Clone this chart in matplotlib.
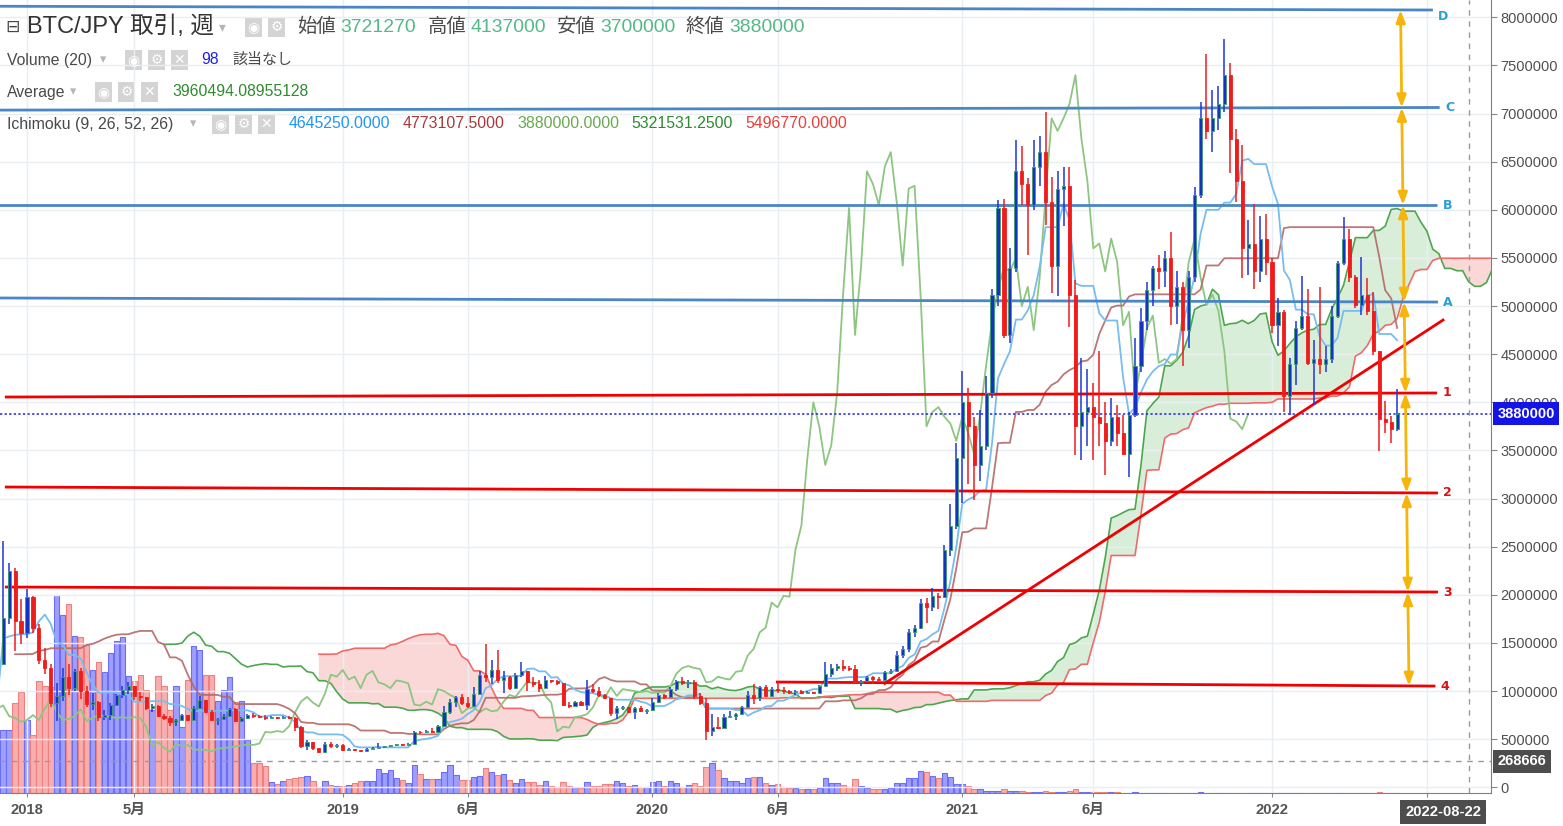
import numpy as np
import pandas as pd
import matplotlib
matplotlib.use('Agg')
import matplotlib.pyplot as plt
from matplotlib import font_manager
from matplotlib.patches import Rectangle
from matplotlib.transforms import blended_transform_factory
from matplotlib.ticker import FuncFormatter

# weekly BTC/JPY bars in 万円, first week 2017-06-26 (off-screen weeks feed the Ichimoku lines)
first_week = '2017-06-26'
first_open = 28.5
close = [
    28.0, 28.2, 21.8, 30.5, 30.8, 35.8, 45.0, 45.2, 47.8, 50.5,
    46.2, 45.2, 42.5, 49.5, 54.0, 64.0, 68.0, 70.0, 84.5, 67.5,
    90.0, 104.0, 128.0, 176, 225, 173, 160, 198, 166, 132,
    124, 88, 95, 115, 103, 121, 100, 87, 89, 73,
    75, 86, 96, 101, 105, 95, 94, 82, 85, 74,
    72, 68, 70, 75, 70, 82, 91, 78, 70, 71,
    74, 81, 69, 72, 75, 74, 73.5, 72, 73, 72,
    73, 72, 63, 43, 47, 41, 37, 45, 43, 44,
    39, 39.2, 38.8, 37.4, 40, 41, 41.5, 42.5, 43.5, 44.5,
    44, 45.5, 57.5, 57, 58.5, 57.5, 63.5, 78, 89, 94,
    88, 84, 97, 117, 115, 122, 112, 115, 103, 117,
    121, 109, 107, 103, 111, 110, 108, 86, 85, 89,
    86, 102, 100, 96, 93, 77, 82, 83, 78, 82,
    79, 80, 89, 96, 94, 102, 110, 108, 109, 95,
    88, 58, 63, 62, 73, 74, 76, 83, 96, 93,
    104, 95, 102, 101, 100, 99, 100, 98, 99, 98.5,
    105, 118, 124, 126, 124, 123, 109, 110, 115, 113,
    112, 120, 121, 137, 144, 161, 166, 192, 187, 199,
    198, 247, 272, 342, 400, 375, 335, 355, 410, 512,
    602, 470, 540, 640, 627, 605, 645, 660, 608, 542,
    622, 625, 512, 375, 390, 395, 385, 378, 360, 385,
    368, 346, 387, 438, 484, 517, 540, 536, 550, 500,
    520, 475, 530, 615, 695, 682, 695, 710, 740, 674,
    630, 560, 565, 536, 570, 546, 480, 494, 407, 440,
    477, 490, 441, 445, 440, 445, 490, 545, 570, 530,
    501, 512, 495, 453, 383, 380, 372.127, 388,
]
high = [
    30.0, 29.8, 28.8, 32.2, 31.5, 36.6, 46.2, 49.5, 48.6, 54.5,
    52.0, 48.5, 45.5, 50.0, 54.8, 66.5, 70.0, 71.5, 86.5, 90.0,
    91.5, 106.0, 133.0, 256, 233, 228, 196, 206, 199, 170,
    145, 128, 108, 124, 128, 123, 124, 105, 98, 90,
    80, 88, 97, 105, 109, 105, 99, 94, 87, 86,
    76, 74, 71, 76, 75, 84, 95, 91, 80, 72,
    76, 82, 82, 73, 76, 77, 75, 75, 74, 73,
    74, 74, 73, 64, 49, 47, 41, 47, 47, 45,
    45, 41, 40, 39, 40.5, 41.5, 46, 43, 44, 45,
    45, 46, 59, 59, 60, 62, 65, 85, 92, 95,
    97, 94, 104, 121, 149, 132, 143, 121, 116, 119,
    130, 121, 115, 111, 116, 112, 111, 108, 89, 90,
    90, 111, 107, 104, 97, 93, 85, 84, 83, 83,
    84, 81, 93, 98, 97, 104, 112, 115, 111, 112,
    98, 93, 76, 73, 76, 79, 77, 84, 100, 107,
    105, 106, 104, 110, 104, 101, 101, 101, 100, 99.5,
    106, 130, 128, 128, 132, 126, 127, 111, 116, 116,
    115, 121, 123, 142, 147, 164, 169, 196, 197, 207,
    202, 252, 294, 358, 433, 415, 385, 392, 427, 518,
    610, 611, 560, 673, 666, 633, 673, 677, 702, 634,
    640, 645, 645, 527, 446, 435, 420, 453, 400, 405,
    397, 387, 390, 467, 498, 525, 542, 553, 557, 577,
    536, 525, 536, 624, 712, 762, 724, 729, 777, 753,
    684, 667, 589, 605.6215, 594, 596, 550, 508, 496, 446,
    484, 531, 518, 465, 520, 459, 500, 547, 593, 580.05,
    532, 551, 529, 515, 453, 401, 386, 413.7,
]
low = [
    26.5, 27.0, 20.6, 21.2, 27.5, 29.5, 35.5, 42.5, 42.8, 46.5,
    43.5, 33.0, 39.8, 42.0, 47.0, 53.0, 57.5, 61.0, 69.0, 62.0,
    66.0, 89.0, 103.0, 127, 170, 142, 149, 155, 160, 128,
    118, 83, 69, 90, 96, 100, 92, 83, 80, 69,
    70, 70, 85, 93, 97, 91, 90, 80, 78, 73,
    70, 64, 64, 69, 69, 70, 81, 77, 69, 65,
    70, 73, 68, 68, 71, 72, 73, 70, 72, 71,
    71, 71, 59, 41, 39, 39, 36, 36, 41, 41,
    38, 38, 38, 37, 37, 40, 40.5, 41, 42, 43,
    43.5, 43.5, 45.5, 55.5, 56.5, 56.5, 57, 63, 76, 83,
    86, 82, 83, 97, 109, 107, 108, 98, 101, 102,
    115, 100, 104, 99, 103, 108, 106, 85, 82, 84,
    85, 80, 98, 94, 92, 74, 71, 80, 77, 71,
    78, 76, 79, 88, 92, 93, 100, 106, 103, 92,
    86, 48.7, 53, 61, 62, 72, 70, 76, 82, 87,
    90, 94, 94, 98, 97, 97, 96, 97, 97.5, 97,
    98, 105, 115, 121, 121, 121, 107, 105, 109, 107,
    111, 111, 118, 120, 134, 141, 156, 165, 171, 183,
    185, 197, 240, 268, 295, 315, 299, 318, 350, 405,
    500, 467, 462, 535, 605, 553, 600, 625, 584, 514,
    510, 583, 478, 345, 340, 355, 340, 355, 325, 355,
    355, 345, 322.354, 385, 432, 475, 500, 518, 520, 480,
    481, 438, 456, 525, 612, 674, 660, 683, 702, 638,
    608, 529, 532, 518, 525, 532, 472, 459, 390, 387,
    418, 475, 439, 397, 429, 432, 441, 488, 543, 525,
    498, 491, 491, 449, 349, 368, 358, 370,
]
# weekly volume (BTC) from the first visible week
volume_start = '2017-12-04'
volume = [
    31500, 31500, 45000, 50500, 36500, 29000, 56000, 53500, 53000, 99000,
    89000, 94500, 78500, 78000, 74000, 61500, 65500, 60500, 70000, 76000,
    78000, 58500, 56000, 59000, 51500, 41500, 58500, 53500, 41500, 53500,
    33000, 56500, 73500, 71500, 59000, 59000, 46000, 51500, 58000, 45500,
    46000, 26500, 15000, 15000, 13500, 5500, 4500, 6000, 7000, 7500,
    8000, 8500, 6000, 3000, 6000, 4000, 3500, 3500, 4000, 5000,
    6000, 6000, 6000, 12000, 10000, 11500, 7500, 6500, 5000, 14000,
    9500, 7000, 7000, 7000, 10500, 14000, 9000, 6500, 6500, 8000,
    8500, 12500, 10500, 9000, 9500, 6500, 5000, 7000, 5500, 5500,
    4000, 6000, 3500, 3000, 5500, 3500, 3000, 2500, 5500, 3500,
    3500, 4500, 4500, 6000, 5000, 3500, 4000, 3000, 3000, 5500,
    6000, 3500, 6000, 5000, 3000, 4000, 5000, 3500, 13000, 15000,
    11500, 7500, 6000, 6000, 5000, 7500, 8000, 8000, 5000, 4000,
    4500, 3000, 2500, 2500, 2000, 2000, 2000, 2500, 7500, 5000,
    5000, 4000, 3000, 7000, 3500, 2500, 2000, 2000, 2000, 2500,
    5000, 5000, 7500, 7500, 11000, 10500, 8500, 7500, 10000, 8000,
    4500, 4500, 3500, 2000, 2000, 1000, 1000, 900, 2000, 1200,
    900, 800, 700, 700, 600, 800, 700, 600, 600, 800,
    2000, 700, 600, 500, 500, 500, 400, 260, 240, 210,
    500, 230, 200, 190, 210, 180, 220, 170, 190, 160,
    210, 500, 230, 240, 190, 170, 160, 150, 180, 140,
    130, 150, 170, 120, 130, 140, 110, 120, 130, 110,
    100, 120, 110, 130, 140, 120, 110, 100, 110, 120,
    130, 600, 140, 110, 98,
]

# drawn levels: name, group, start date, start price, end date, end price (万円)
levels = [
    ('D', 'blue', '2017-11-29', 811.5, '2022-07-11', 807.6),
    ('C', 'blue', '2017-11-29', 703.6, '2022-07-19', 706.3),
    ('B', 'blue', '2017-11-29', 605.0, '2022-07-16', 605.0),
    ('A', 'blue', '2017-11-29', 508.4, '2022-07-17', 504.2),
    ('1', 'red', '2017-12-06', 405.5, '2022-07-16', 409.7),
    ('2', 'red', '2017-12-06', 312.0, '2022-07-17', 305.8),
    ('3', 'red', '2017-12-06', 208.1, '2022-07-17', 202.9),
    ('4', 'red', '2020-05-30', 109.4, '2022-07-14', 105.2),
]
trend = ('2020-10-05', 108.0, '2022-07-23', 485.5)
arrow_dates = ('2022-06-03', '2022-06-13')
cross_date, cross_price = '2022-08-22', 268666

tick_dates = ['2018-01-01', '2018-05-07', '2019-01-07', '2019-06-03', '2020-01-06',
              '2020-06-01', '2021-01-04', '2021-06-07', '2022-01-03', '2022-07-04']
tick_labels = ['2018', '5月', '2019', '6月', '2020', '6月', '2021', '6月', '2022', '']

# fonts: the screenshot text is condensed, use the narrow face when present
names = {f.name for f in font_manager.fontManager.ttflist}
NARROW = 'Liberation Sans Narrow' in names
BASE = 'Liberation Sans Narrow' if NARROW else 'Liberation Sans'
K = 1.0 if NARROW else 0.82
plt.rcParams['font.family'] = [BASE, 'Noto Sans CJK JP', 'DejaVu Sans']

t0 = pd.Timestamp('2018-01-01')


def wk(d):
    return np.asarray((pd.to_datetime(d) - t0) / pd.Timedelta(days=7), dtype=float)


c = np.array(close) * 1e4
h = np.array(high) * 1e4
l = np.array(low) * 1e4
o = np.r_[first_open * 1e4, c[:-1]]
x = wk(pd.date_range(first_week, periods=len(c), freq='7D'))
up = c >= o

# Ichimoku (9, 26, 52, 26)
hs, ls = pd.Series(h), pd.Series(l)


def mid(n):
    return ((hs.rolling(n).max() + ls.rolling(n).min()) / 2).to_numpy()


tenkan, kijun, spanb = mid(9), mid(26), mid(52)
spana = (tenkan + kijun) / 2
shift = 25

W, H = 1563, 826
fig = plt.figure(figsize=(W / 100, H / 100), dpi=100, facecolor='white')
ax = fig.add_axes([0, 33 / H, 1491 / W, 793 / H])
ax2 = ax.twinx()
ax.set_zorder(ax2.get_zorder() + 1)
ax.patch.set_visible(False)

# volume behind price
vx = wk(pd.date_range(volume_start, periods=len(volume), freq='7D'))
vup = up[-len(volume):]
ax2.bar(vx, volume, width=0.9, color=np.where(vup, '#9e9eff', '#f8aeae'),
        edgecolor=np.where(vup, '#6e6ef2', '#ee8080'), linewidth=0.8)
ax2.set_ylim(0, 793 * 500)
ax2.axis('off')

# cloud
xa = x + shift
ax.fill_between(xa, spana, spanb, where=spana >= spanb, interpolate=True,
                color='#d3ecd3', alpha=0.85, lw=0, zorder=1)
ax.fill_between(xa, spana, spanb, where=spana < spanb, interpolate=True,
                color='#fbd2d2', alpha=0.85, lw=0, zorder=1)
ax.plot(xa, spana, color='#4ea64e', lw=1.2, zorder=2)
ax.plot(xa, spanb, color='#ef6b6b', lw=1.2, zorder=2)
ax.plot(x - shift, c, color='#8cc680', lw=1.3, zorder=2)
ax.plot(x, kijun, color='#b56868', lw=1.3, alpha=0.9, zorder=2)
ax.plot(x, tenkan, color='#78bcf0', lw=1.3, zorder=2)

# candles
ax.vlines(x[up], l[up], h[up], color='#1f35d8', lw=1.1, zorder=4)
ax.vlines(x[~up], l[~up], h[~up], color='#ef1c1c', lw=1.1, zorder=4)
body = np.maximum(np.abs(c - o), 8e3)
bot = np.minimum(o, c)
ax.bar(x[up], body[up], 0.52, bottom=bot[up], color='#1433c4', edgecolor='#3d9f6b',
       linewidth=0.6, zorder=5)
ax.bar(x[~up], body[~up], 0.52, bottom=bot[~up], color='#ef1c1c', edgecolor='#ef1c1c',
       linewidth=0.6, zorder=5)

# current price and crosshair
ax.axhline(c[-1], color='#2222ee', ls=(0, (1.5, 1.5)), lw=1.1, zorder=3)
ax.axhline(cross_price, color='#9a9a9a', ls=(0, (4, 4)), lw=1, zorder=3)
ax.axvline(wk(cross_date), color='#9a9a9a', ls=(0, (4, 4)), lw=1, zorder=3)

# drawn levels and labels
ends = {}
for name, grp, d0, p0, d1, p1 in levels:
    x0, x1 = wk(d0), wk(d1)
    col = '#4a86c5' if grp == 'blue' else '#f00000'
    ax.plot([x0, x1], [p0 * 1e4, p1 * 1e4], color=col, lw=2, zorder=3,
            solid_capstyle='butt')
    ends[name] = (x0, p0 * 1e4, x1, p1 * 1e4)
    ax.text(x1 + 0.9, p1 * 1e4, name, color='#2a9fd6' if grp == 'blue' else '#dd1111',
            fontsize=9, fontweight='bold', family=['DejaVu Sans'],
            va='top' if name == 'D' else 'center', ha='left', zorder=7)
tx0, tp0, tx1, tp1 = trend
ax.plot([wk(tx0), wk(tx1)], [tp0 * 1e4, tp1 * 1e4], color='#f00000', lw=2, zorder=3)

# yellow measuring arrows between neighbouring levels
order = [lv[0] for lv in levels]
axs = np.linspace(wk(arrow_dates[0]), wk(arrow_dates[1]), len(order))
avs = [np.interp(axs[k], [ends[n][0], ends[n][2]], [ends[n][1], ends[n][3]])
       for k, n in enumerate(order)]
for k in range(len(order) - 1):
    ax.annotate('', xy=(axs[k + 1], avs[k + 1]), xytext=(axs[k], avs[k]),
                arrowprops=dict(arrowstyle='<|-|>,head_length=0.8,head_width=0.3',
                                color='#f5b50a', lw=2, shrinkA=0, shrinkB=0,
                                mutation_scale=9), zorder=6)

# axes
ax.set_xlim(-4.532, 245.76)
ax.set_ylim(-0.059e6, 8.18e6)
ax2.set_xlim(-4.532, 245.76)
ax.yaxis.tick_right()
ax.set_yticks(np.arange(0, 8.0e6 + 1, 5e5))
ax.yaxis.set_major_formatter(FuncFormatter(lambda v, _: f'{int(round(v))}'))
ax.set_xticks(wk(tick_dates))
ax.set_xticklabels(tick_labels)
ax.tick_params(axis='y', length=4, color='#888888', labelcolor='#505050',
               labelsize=12.9 * K, pad=3)
ax.tick_params(axis='x', length=3, color='#888888', labelcolor='#555555',
               labelsize=13 * K, pad=4)
for t in ax.get_xticklabels():
    t.set_fontweight('bold')
ax.grid(True, color='#e9eef3', lw=1, zorder=0)
for s in ('top', 'left'):
    ax.spines[s].set_visible(False)
for s in ('right', 'bottom'):
    ax.spines[s].set_color('#808080')

# price scale labels
tr = blended_transform_factory(ax.transAxes, ax.transData)
ax.text(1.0045, c[-1], f'{int(c[-1])}', transform=tr, color='white', fontsize=12.9 * K,
        fontweight='bold', va='center', ha='left', clip_on=False, zorder=10,
        bbox=dict(boxstyle='square,pad=0.3', fc='#1414e6', ec='none'))
ax.text(1.0045, cross_price, f'{cross_price}', transform=tr, color='white',
        fontsize=12.9 * K, fontweight='bold', va='center', ha='left', clip_on=False,
        zorder=10, bbox=dict(boxstyle='square,pad=0.3', fc='#4d4d4d', ec='none'))
fig.text(1443 / W, 1 - 812 / H, pd.Timestamp(cross_date).strftime('%Y-%m-%d'),
         color='white', fontsize=13 * K, fontweight='bold', ha='center', va='center',
         bbox=dict(boxstyle='square,pad=0.35', fc='#4d4d4d', ec='none'))


# legend overlay
def ftext(px, py, s, color, size, **kw):
    fig.text(px / W, 1 - py / H, s, color=color, fontsize=size * K, ha='left',
             va='center', **kw)


def icon(px, py, sym):
    fig.add_artist(Rectangle((px / W, 1 - (py + 10) / H), 17 / W, 20 / H,
                             transform=fig.transFigure, fc='#d4d4d4', ec='none'))
    fig.text((px + 8.5) / W, 1 - py / H, sym, color='white', fontsize=10,
             ha='center', va='center', family=['DejaVu Sans'])


lab = '#4a4a4a'
green = '#53b987'
ftext(5, 27, '⊟', '#444444', 15, family=['DejaVu Sans'])
fig.text(27 / W, 1 - 27 / H, 'BTC/JPY 取引, 週', color='#333333', fontsize=17,
         ha='left', va='center', family=['Liberation Sans', 'Noto Sans CJK JP'])
ftext(219, 27, '▾', '#b5b5b5', 12)
icon(245, 27, '◉')
icon(268, 27, '⚙')
ohlc = [('始値', 297, 340, o[-1]), ('高値', 428, 470, h[-1]),
        ('安値', 557, 600, l[-1]), ('終値', 686, 729, c[-1])]
for name, p0, p1, val in ohlc:
    ftext(p0, 27, name, lab, 17)
    ftext(p1, 27, f'{int(round(val))}', green, 17)

ftext(7, 60, 'Volume (20)', lab, 13.8)
ftext(100, 60, '▾', '#b5b5b5', 11)
for k, s in enumerate(['◉', '⚙', '✕']):
    icon(125 + 23 * k, 60, s)
ftext(201, 60, f'{volume[-1]}', '#2020e0', 13.8)
ftext(232, 60, '該当なし', lab, 13.2)

ftext(7, 92, 'Average', lab, 13.8)
ftext(70, 92, '▾', '#b5b5b5', 11)
for k, s in enumerate(['◉', '⚙', '✕']):
    icon(95 + 23 * k, 92, s)
ftext(172, 92, '3960494.08955128', '#2e8b2e', 13.8)

ftext(7, 124, 'Ichimoku (9, 26, 52, 26)', lab, 14)
ftext(190, 124, '▾', '#b5b5b5', 11)
for k, s in enumerate(['◉', '⚙', '✕']):
    icon(212 + 23 * k, 124, s)
ichi = [(289, tenkan[-1], '#2196f3'), (403, kijun[-1], '#a83a3a'),
        (517, c[-1], '#6aa84f'), (631, 5321531.25, '#2e8b2e'),
        (745, spanb[-1], '#e8403a')]
for px, val, col in ichi:
    ftext(px, 124, f'{val:.4f}', col, 14)

fig.savefig('out.png', dpi=100, facecolor='white')
